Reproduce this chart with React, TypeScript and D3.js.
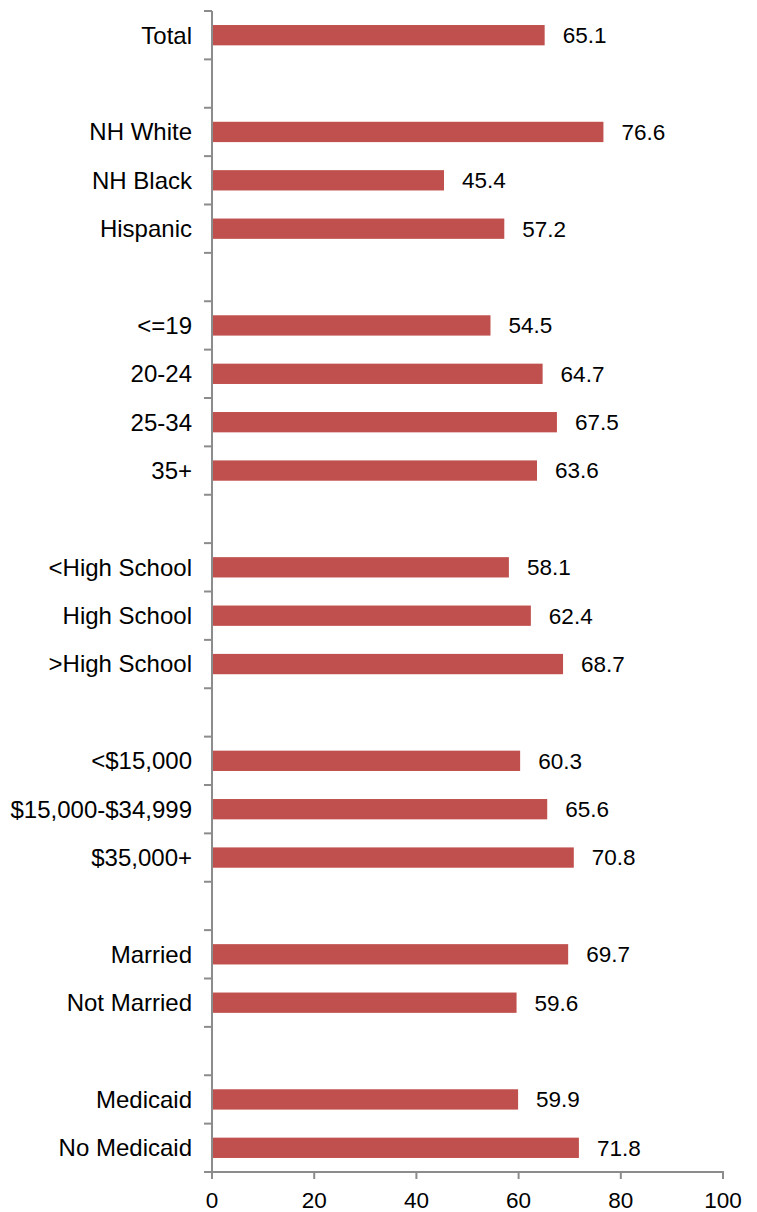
import React from "react";
import * as d3 from "d3";

const categories: string[] = [
  "Total", "",
  "NH White", "NH Black", "Hispanic", "",
  "<=19", "20-24", "25-34", "35+", "",
  "<High School", "High School", ">High School", "",
  "<$15,000", "$15,000-$34,999", "$35,000+", "",
  "Married", "Not Married", "",
  "Medicaid", "No Medicaid",
];
const values: (number | null)[] = [
  65.1, null,
  76.6, 45.4, 57.2, null,
  54.5, 64.7, 67.5, 63.6, null,
  58.1, 62.4, 68.7, null,
  60.3, 65.6, 70.8, null,
  69.7, 59.6, null,
  59.9, 71.8,
];
const xTicks: number[] = [0, 20, 40, 60, 80, 100];

const W = 757, H = 1212;
const left = 212, right = 723, top = 11, bottom = 1172;
const FONT = "Liberation Sans, Arial, sans-serif";
const AXIS = "#8c8c8c";

export default function App() {
  const idx = categories.map((_, i) => String(i));
  const y = d3.scaleBand<string>().domain(idx).range([top, bottom]).paddingInner(0.58).paddingOuter(0.29);
  const x = d3.scaleLinear().domain([0, 100]).range([left, right]);
  const step = y.step();
  const boundaries = d3.range(categories.length + 1).map((i) => top + i * step);

  return (
    <svg width={W} height={H} style={{ position: "absolute", left: 0, top: 0, background: "#fff" }}>
      {categories.map((c, i) => {
        const v = values[i];
        const cy = (y(String(i)) as number) + y.bandwidth() / 2;
        return (
          <g key={i}>
            {c && (
              <text x={192} y={cy} dy="0.35em" textAnchor="end" fontFamily={FONT} fontSize={24} fill="#000">
                {c}
              </text>
            )}
            {v != null && (
              <>
                <rect x={x(0) + 1} y={y(String(i))} width={x(v) - x(0) - 1} height={y.bandwidth()} fill="#C0504D" />
                <text x={x(v) + 18} y={cy} dy="0.35em" fontFamily={FONT} fontSize={22.5} fill="#000">
                  {v.toFixed(1)}
                </text>
              </>
            )}
          </g>
        );
      })}
      {boundaries.map((b, i) => (
        <line key={"t" + i} x1={204} x2={left} y1={b} y2={b} stroke={AXIS} strokeWidth={2} />
      ))}
      <line x1={left} x2={left} y1={top} y2={bottom} stroke={AXIS} strokeWidth={2} />
      <line x1={left} x2={right + 1} y1={bottom} y2={bottom} stroke={AXIS} strokeWidth={2} />
      {xTicks.map((t) => (
        <g key={"x" + t}>
          <line x1={x(t)} x2={x(t)} y1={bottom} y2={bottom + 7} stroke={AXIS} strokeWidth={2} />
          <text x={x(t)} y={1208} textAnchor="middle" fontFamily={FONT} fontSize={22.5} fill="#000">
            {t}
          </text>
        </g>
      ))}
    </svg>
  );
}
